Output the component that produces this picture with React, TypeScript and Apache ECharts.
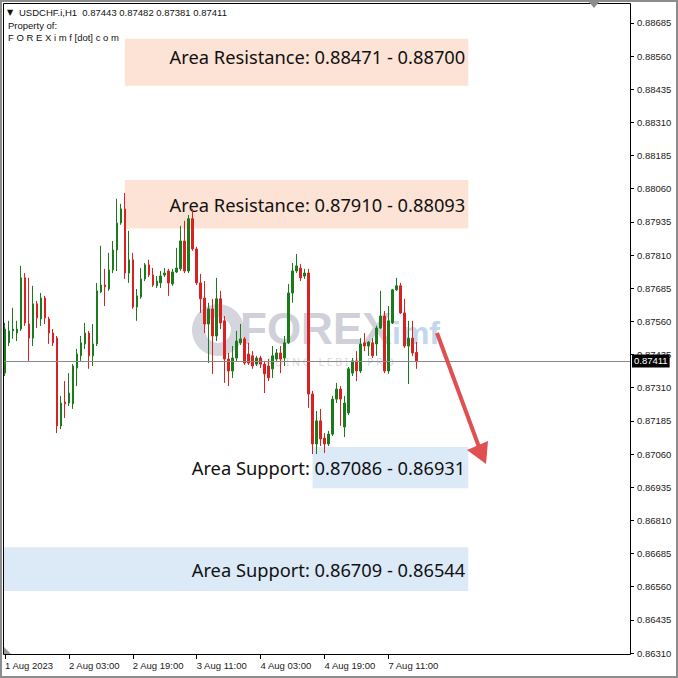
import React, { useEffect, useRef } from "react";
import * as echarts from "echarts";

// ---- Candle data (USDCHF.i, H1) ----
const opens = [
  0.87365, 0.87479, 0.87524, 0.87516, 0.87531, 0.87724, 0.8755, 0.87497, 0.87626, 0.87569,
  0.87648, 0.87569, 0.87516, 0.87497, 0.87166, 0.87256, 0.87252, 0.87249, 0.87384, 0.8743,
  0.87475, 0.87516, 0.8743, 0.87475, 0.87671, 0.87697, 0.87682, 0.87754, 0.87829, 0.87931,
  0.87984, 0.87742, 0.87792, 0.87614, 0.87652, 0.8772, 0.87773, 0.87735, 0.87694, 0.87705,
  0.87735, 0.8775, 0.87701, 0.87746, 0.87758, 0.87863, 0.8775, 0.87947, 0.87833, 0.87705,
  0.87648, 0.8755, 0.87607, 0.87505, 0.87645, 0.87562, 0.87418, 0.87373, 0.87422, 0.87479,
  0.87494, 0.87437, 0.8743, 0.87399, 0.87422, 0.87399, 0.87392, 0.87381, 0.87418, 0.87441,
  0.87422, 0.87479, 0.87667, 0.8775, 0.87761, 0.87731, 0.87742, 0.87286, 0.87098, 0.87185,
  0.8712, 0.87098, 0.87135, 0.87267, 0.87305, 0.87162, 0.87215, 0.87365, 0.87411, 0.87373,
  0.87479, 0.87467, 0.87479, 0.87475, 0.87535, 0.8758, 0.87373, 0.87554, 0.87679, 0.87694,
  0.87592, 0.87467, 0.87497, 0.87443,
];
const closes = [
  0.87531, 0.87524, 0.87531, 0.87531, 0.87724, 0.87554, 0.87497, 0.87626, 0.87573, 0.87648,
  0.87573, 0.87516, 0.87479, 0.87166, 0.87252, 0.87249, 0.8729, 0.87392, 0.87437, 0.87479,
  0.87516, 0.8743, 0.87475, 0.87675, 0.87697, 0.8769, 0.87754, 0.87829, 0.87931, 0.87984,
  0.87742, 0.87792, 0.87614, 0.87656, 0.8772, 0.87773, 0.87735, 0.87697, 0.87712, 0.87731,
  0.87742, 0.87705, 0.87746, 0.87761, 0.87863, 0.8775, 0.87947, 0.87833, 0.87705, 0.87645,
  0.8755, 0.87607, 0.87505, 0.87645, 0.87554, 0.87418, 0.87373, 0.87422, 0.87486, 0.87494,
  0.87403, 0.87403, 0.87392, 0.87422, 0.87399, 0.87362, 0.87347, 0.8743, 0.87441, 0.87418,
  0.87479, 0.87667, 0.8775, 0.87769, 0.87724, 0.87742, 0.87286, 0.87098, 0.87185, 0.87117,
  0.87098, 0.87135, 0.87267, 0.87305, 0.87267, 0.87252, 0.87381, 0.87411, 0.87373, 0.87475,
  0.87467, 0.87482, 0.8743, 0.87535, 0.8758, 0.87373, 0.87562, 0.87679, 0.87694, 0.87592,
  0.87467, 0.87497, 0.87441, 0.87411,
];
const lows = [
  0.87354, 0.87467, 0.87494, 0.87486, 0.87524, 0.87543, 0.87411, 0.87467, 0.87535, 0.87543,
  0.8755, 0.87475, 0.87467, 0.87139, 0.87154, 0.87196, 0.87241, 0.8723, 0.87316, 0.87411,
  0.87456, 0.87381, 0.87392, 0.87467, 0.87667, 0.87618, 0.87675, 0.87742, 0.8775, 0.87924,
  0.8772, 0.87705, 0.87607, 0.87562, 0.87645, 0.87712, 0.87727, 0.8769, 0.87686, 0.87686,
  0.87727, 0.87656, 0.87694, 0.87742, 0.8775, 0.87742, 0.87742, 0.87826, 0.87697, 0.87592,
  0.87516, 0.87403, 0.87362, 0.87486, 0.87531, 0.87328, 0.87316, 0.87347, 0.87411, 0.87471,
  0.87396, 0.87396, 0.87381, 0.87392, 0.87384, 0.8729, 0.87335, 0.87347, 0.87411, 0.87365,
  0.87392, 0.87475, 0.8763, 0.87742, 0.87712, 0.8772, 0.87234, 0.8706, 0.8706, 0.8709,
  0.87064, 0.8709, 0.87128, 0.87252, 0.87166, 0.87124, 0.87207, 0.87354, 0.87335, 0.87365,
  0.87448, 0.8743, 0.87422, 0.8743, 0.87531, 0.87365, 0.87362, 0.8755, 0.87675, 0.87588,
  0.8746, 0.87324, 0.8743, 0.87381,
];
const highs = [
  0.87554, 0.87562, 0.87611, 0.87562, 0.87769, 0.87742, 0.87724, 0.87694, 0.87637, 0.87667,
  0.87656, 0.87577, 0.87531, 0.87505, 0.87279, 0.87335, 0.87365, 0.87399, 0.87456, 0.87505,
  0.87554, 0.87524, 0.8755, 0.87705, 0.87845, 0.87758, 0.87818, 0.87863, 0.88022, 0.88003,
  0.88044, 0.87901, 0.87818, 0.87682, 0.87761, 0.8778, 0.87792, 0.87761, 0.87731, 0.8775,
  0.87761, 0.87758, 0.87758, 0.87837, 0.8792, 0.87939, 0.87961, 0.87984, 0.87841, 0.87739,
  0.87712, 0.8763, 0.87645, 0.87724, 0.87675, 0.8758, 0.87441, 0.87467, 0.87524, 0.8755,
  0.87501, 0.87479, 0.87448, 0.8743, 0.8743, 0.87411, 0.87418, 0.87467, 0.87456, 0.87467,
  0.87505, 0.87701, 0.8778, 0.87814, 0.87776, 0.87758, 0.87758, 0.87298, 0.87222, 0.8723,
  0.87139, 0.87147, 0.87279, 0.87328, 0.87316, 0.87279, 0.87388, 0.87422, 0.87448, 0.87497,
  0.87516, 0.87486, 0.87497, 0.87543, 0.87675, 0.87599, 0.87618, 0.87682, 0.87724, 0.87705,
  0.87645, 0.87562, 0.87562, 0.87482,
];

// ---- Zones ----
const zoneLabels = [
  "Area Resistance: 0.88471 - 0.88700",
  "Area Resistance: 0.87910 - 0.88093",
  "Area Support: 0.87086 - 0.86931",
  "Area Support: 0.86709 - 0.86544",
];
const zoneUpper = [0.88625, 0.88093, 0.87086, 0.86709];
const zoneLower = [0.88448, 0.8791, 0.86931, 0.86544];
const zoneStart = [30, 30, 77, -Infinity];
const zoneEnd = [116, 116, 116, 116];
const zoneKind = ["res", "res", "sup", "sup"];

// ---- Axes ----
const yMin = 0.8631;
const yMax = 0.8876;
const yStep = 0.00125;
const slotCount = 157;
const tickEvery = 16;
const firstLabel = "1 Aug 2023";
const monthNames = ["Jan", "Feb", "Mar", "Apr", "May", "Jun", "Jul", "Aug", "Sep", "Oct", "Nov", "Dec"];

function buildCategories(): string[] {
  const out: string[] = [];
  let t = Date.UTC(2023, 7, 1, 11);
  while (out.length < slotCount) {
    const d = new Date(t);
    const wd = d.getUTCDay();
    if (wd !== 0 && wd !== 6) {
      out.push(
        `${d.getUTCDate()} ${monthNames[d.getUTCMonth()]} ${String(d.getUTCHours()).padStart(2, "0")}:00`
      );
    }
    t += 3600000;
  }
  return out;
}

const UP = "#1b7a1b";
const DOWN = "#d92121";
const AXIS_FONT = "Liberation Sans";

export default function App() {
  const ref = useRef<HTMLDivElement>(null);

  useEffect(() => {
    if (!ref.current) return;
    const chart = echarts.init(ref.current, null, { renderer: "svg" });
    const categories = buildCategories();
    const last = opens.length - 1;
    const candles = opens.map((o, i) => [o, closes[i], lows[i], highs[i]]);
    const current = closes[last];

    const showTick = (index: number) => index % tickEvery === 0 && index <= last;

    const areas = zoneLabels.map((lab, i) => [
      {
        name: lab,
        xAxis: zoneStart[i],
        yAxis: zoneUpper[i],
        itemStyle: { color: zoneKind[i] === "res" ? "#fce3d5" : "#dceaf8" },
        label: i === 0 ? { offset: [0, -6] } : {},
      },
      { xAxis: zoneEnd[i], yAxis: zoneLower[i] },
    ]);

    const header = `USDCHF.i,H1  ${opens[last].toFixed(5)} ${highs[last].toFixed(5)} ${lows[last].toFixed(
      5
    )} ${closes[last].toFixed(5)}`;

    chart.setOption({
      animation: false,
      backgroundColor: "#ffffff",
      grid: { left: 3, top: 3, width: 627, height: 650, containLabel: false },
      xAxis: {
        type: "category",
        data: categories,
        boundaryGap: true,
        offset: 2,
        axisLine: { show: false },
        axisTick: {
          show: true,
          alignWithLabel: true,
          interval: (index: number) => showTick(index),
          length: 4,
          lineStyle: { color: "#000" },
        },
        axisLabel: {
          interval: (index: number) => showTick(index),
          formatter: (value: string, index: number) => (index === 0 ? firstLabel : value),
          align: "left",
          margin: 5,
          color: "#1a1a1a",
          fontSize: 9.5,
          fontFamily: AXIS_FONT,
        },
        splitLine: { show: false },
      },
      yAxis: {
        type: "value",
        position: "right",
        min: yMin,
        max: yMax,
        interval: yStep,
        scale: true,
        axisLine: { show: false },
        axisTick: { show: true, length: 4, lineStyle: { color: "#000" } },
        axisLabel: {
          formatter: (v: number) => v.toFixed(5),
          showMaxLabel: false,
          margin: 7,
          color: "#1a1a1a",
          fontSize: 9.5,
          fontFamily: AXIS_FONT,
        },
        splitLine: { show: false },
      },
      series: [
        {
          type: "candlestick",
          data: candles,
          barWidth: 2,
          silent: true,
          emphasis: { disabled: true },
          itemStyle: {
            color: UP,
            color0: DOWN,
            borderColor: UP,
            borderColor0: DOWN,
            borderWidth: 1,
          },
          markArea: {
            silent: true,
            z: 1,
            label: {
              show: true,
              position: "insideRight",
              distance: 3,
              formatter: "{b}",
              color: "#111",
              fontSize: 18.3,
              fontFamily: "Noto Sans",
            },
            data: areas,
          },
        },
        {
          type: "line",
          data: [],
          silent: true,
          z: 4,
          markLine: {
            silent: true,
            precision: 5,
            symbol: ["none", "none"],
            lineStyle: { color: "#8a8a8a", width: 1, type: "solid" },
            label: {
              show: true,
              position: "end",
              distance: 2,
              formatter: current.toFixed(5),
              color: "#fff",
              backgroundColor: "#000",
              padding: [2, 2, 1, 2],
              fontSize: 9.5,
              fontFamily: AXIS_FONT,
            },
            data: [{ yAxis: current }],
          },
        },
      ],
      graphic: [
        // watermark
        {
          type: "ring",
          z: 0,
          silent: true,
          shape: { cx: 218, cy: 330, r: 26, r0: 13 },
          style: { fill: "#d4d5dd" },
        },
        {
          type: "text",
          z: 0,
          silent: true,
          x: 240,
          y: 328,
          style: {
            text: "FOREX",
            fill: "#cfd0d9",
            fontSize: 44,
            lineHeight: 34,
            fontWeight: "bold",
            fontFamily: "Liberation Sans",
            verticalAlign: "middle",
          },
        },
        {
          type: "text",
          z: 0,
          silent: true,
          x: 392,
          y: 333,
          style: {
            text: "imf",
            fill: "#c3d7ec",
            fontSize: 32,
            lineHeight: 26,
            fontWeight: "bold",
            fontFamily: "Liberation Sans",
            verticalAlign: "middle",
          },
        },
        {
          type: "text",
          z: 0,
          silent: true,
          x: 248,
          y: 362,
          style: {
            text: "T R A D I N G   L E B I H   P R O",
            fill: "#d8d8e0",
            fontSize: 10.5,
            lineHeight: 11,
            fontFamily: "Noto Sans",
            verticalAlign: "middle",
          },
        },
        // frame
        {
          type: "rect",
          z: 50,
          silent: true,
          shape: { x: 3.5, y: 3.5, width: 627, height: 651 },
          style: { fill: "none", stroke: "#000", lineWidth: 1 },
        },
        {
          type: "rect",
          z: 50,
          silent: true,
          shape: { x: 1, y: 1, width: 676, height: 676 },
          style: { fill: "none", stroke: "#8c8c8c", lineWidth: 2 },
        },
        {
          type: "polygon",
          z: 50,
          silent: true,
          shape: { points: [[588, 1], [600, 1], [594, 8]] },
          style: { fill: "#8e8e8e" },
        },
        {
          type: "polygon",
          z: 50,
          silent: true,
          shape: { points: [[4, 647], [4, 654], [11, 654]] },
          style: { fill: "#9a9a9a" },
        },
        // header
        {
          type: "text",
          z: 60,
          silent: true,
          x: 7,
          y: 12,
          style: { text: "▼", fill: "#111", fontSize: 8, fontFamily: "DejaVu Sans", verticalAlign: "middle" },
        },
        {
          type: "text",
          z: 60,
          silent: true,
          x: 19,
          y: 12,
          style: { text: header, fill: "#111", fontSize: 9.5, fontFamily: AXIS_FONT, verticalAlign: "middle" },
        },
        {
          type: "text",
          z: 60,
          silent: true,
          x: 8,
          y: 25,
          style: { text: "Property of:", fill: "#111", fontSize: 9.5, fontFamily: AXIS_FONT, verticalAlign: "middle" },
        },
        {
          type: "text",
          z: 60,
          silent: true,
          x: 8,
          y: 37,
          style: {
            text: "F O R E X i m f [dot] c o m",
            fill: "#111",
            fontSize: 9.5,
            fontFamily: AXIS_FONT,
            verticalAlign: "middle",
          },
        },
        // arrow
        {
          type: "line",
          z: 60,
          silent: true,
          shape: { x1: 437, y1: 333, x2: 479, y2: 447 },
          style: { stroke: "#e05050", lineWidth: 4 },
        },
        {
          type: "polygon",
          z: 60,
          silent: true,
          shape: { points: [[486, 464], [467, 450], [488, 441]] },
          style: { fill: "#e05050" },
        },
      ],
    });

    return () => chart.dispose();
  }, []);

  return (
    <div
      ref={ref}
      style={{ position: "fixed", left: 0, top: 0, width: 678, height: 678, background: "#fff" }}
    />
  );
}
